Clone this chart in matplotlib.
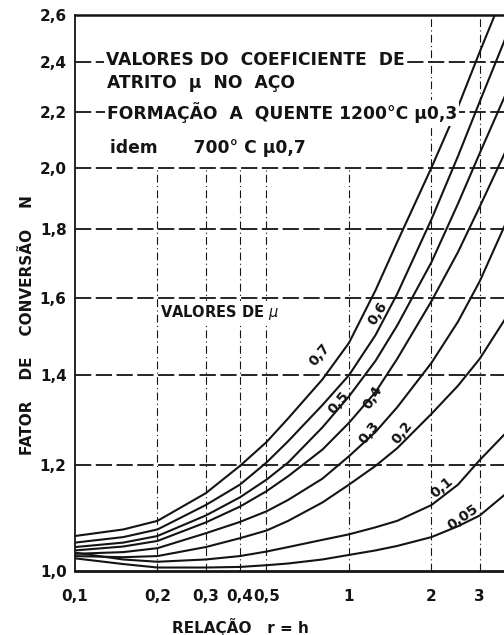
import numpy as np
import matplotlib.pyplot as plt
from matplotlib.ticker import NullLocator

# relacao r = h (log scale) and fator de conversao N
r = [0.1, 0.15, 0.2, 0.3, 0.4, 0.5, 0.6, 0.8, 1.0, 1.25, 1.5, 2.0, 2.5, 3.0, 3.7]

n_070 = [1.062, 1.074, 1.090, 1.143, 1.198, 1.248, 1.30, 1.39, 1.48, 1.62, 1.76, 2.00, 2.22, 2.44, 2.71]
n_060 = [1.050, 1.060, 1.074, 1.120, 1.160, 1.205, 1.25, 1.33, 1.40, 1.50, 1.61, 1.83, 2.04, 2.24, 2.49]
n_050 = [1.042, 1.050, 1.062, 1.100, 1.135, 1.170, 1.205, 1.28, 1.35, 1.435, 1.525, 1.70, 1.88, 2.05, 2.26]
n_040 = [1.036, 1.043, 1.053, 1.087, 1.117, 1.147, 1.177, 1.232, 1.29, 1.36, 1.44, 1.59, 1.73, 1.87, 2.05]
n_030 = [1.030, 1.033, 1.040, 1.067, 1.088, 1.108, 1.13, 1.172, 1.218, 1.27, 1.325, 1.43, 1.535, 1.645, 1.81]
n_020 = [1.026, 1.024, 1.026, 1.042, 1.058, 1.072, 1.09, 1.125, 1.16, 1.198, 1.235, 1.31, 1.375, 1.44, 1.54]
n_010 = [1.032, 1.020, 1.016, 1.020, 1.026, 1.034, 1.042, 1.055, 1.065, 1.078, 1.09, 1.12, 1.16, 1.21, 1.265]
n_005 = [1.022, 1.012, 1.006, 1.006, 1.007, 1.010, 1.013, 1.020, 1.028, 1.036, 1.044, 1.06, 1.08, 1.10, 1.14]

curves = [n_070, n_060, n_050, n_040, n_030, n_020, n_010, n_005]
mu_labels = ['0,7', '0,6', '0,5', '0,4', '0,3', '0,2', '0,1', '0,05']

y_ticks = [1.0, 1.2, 1.4, 1.6, 1.8, 2.0, 2.2, 2.4, 2.6]
y_ticklabels = ['1,0', '1,2', '1,4', '1,6', '1,8', '2,0', '2,2', '2,4', '2,6']
x_ticks = [0.1, 0.2, 0.3, 0.4, 0.5, 1, 2, 3]
x_ticklabels = ['0,1', '0,2', '0,3', '0,4', '0,5', '1', '2', '3']

ink = '#141414'
W, H = 504, 635

fig = plt.figure(figsize=(W / 100, H / 100), dpi=100)
ax = fig.add_axes([75 / W, 64 / H, (W - 75) / W, (571 - 15) / H])
ax.set_xscale('log')
ax.set_yscale('log')
ax.set_xlim(0.1, 3.68)
ax.set_ylim(1.0, 2.6)

# grid: dashed horizontals, vertical lines stop at 2,0 left of x=2
for yv in y_ticks[1:-1]:
    ax.axhline(yv, color=ink, lw=1.3, ls=(0, (9, 2.5)), zorder=1)
ax.vlines([v for v in x_ticks[1:] if v < 2], 1.0, 2.0, color=ink, lw=0.8,
          ls=(0, (7, 3, 1, 3)), zorder=1)
ax.vlines([v for v in x_ticks if v >= 2], 1.0, 2.6, color=ink, lw=0.8,
          ls=(0, (7, 3, 1, 3)), zorder=1)

for n in curves:
    ax.plot(r, n, color=ink, lw=1.5, zorder=3, solid_joinstyle='round')

ax.set_xticks(x_ticks)
ax.set_xticklabels(x_ticklabels)
ax.set_yticks(y_ticks)
ax.set_yticklabels(y_ticklabels)
ax.xaxis.set_minor_locator(NullLocator())
ax.yaxis.set_minor_locator(NullLocator())
ax.tick_params(axis='both', length=0, labelsize=11, colors=ink)
ax.tick_params(axis='x', pad=13)
ax.tick_params(axis='y', pad=6)
for lab in ax.get_xticklabels() + ax.get_yticklabels():
    lab.set_fontweight('bold')

ax.spines['right'].set_visible(False)
for s in ['left', 'top', 'bottom']:
    ax.spines[s].set_color(ink)
ax.spines['left'].set_linewidth(1.3)
ax.spines['top'].set_linewidth(1.8)
ax.spines['bottom'].set_linewidth(2.0)

# curve labels (rotated along the curves)
lab_r = [0.78, 1.27, 0.92, 1.22, 1.19, 1.57, 2.18, 2.6]
lab_n = [1.45, 1.557, 1.335, 1.348, 1.268, 1.268, 1.155, 1.097]
lab_rot = [50, 58, 50, 58, 52, 52, 40, 35]
for t, xr, yn, rot in zip(mu_labels, lab_r, lab_n, lab_rot):
    ax.text(xr, yn, t, rotation=rot, ha='center', va='center', fontsize=10,
            fontweight='bold', color=ink, zorder=4)

ax.text(0.205, 1.56, 'VALORES DE $\\mu$', ha='left', va='center', fontsize=10.5,
        fontweight='bold', color=ink, zorder=4,
        bbox=dict(facecolor='white', edgecolor='none', pad=1))

# header block
box = dict(facecolor='white', edgecolor='none', pad=1.5)
hdr = [('VALORES DO  COEFICIENTE  DE', 106, 60),
       ('ATRITO  \u03bc  NO  AÇO', 107, 83),
       ('FORMAÇÃO  A  QUENTE 1200°C \u03bc0,3', 107, 113),
       ('idem      700° C \u03bc0,7', 110, 148)]
for t, px, py in hdr:
    fig.text(px / W, 1 - py / H, t, ha='left', va='center', fontsize=12.3,
             fontweight='bold', color=ink, bbox=box, zorder=5)

fig.text(28 / W, 1 - 325 / H, 'FATOR    DE    CONVERSÃO    N', rotation=90,
         ha='center', va='center', fontsize=11, fontweight='bold', color=ink)
fig.text(240 / W, 1 - 627 / H, 'RELAÇÃO   r = h', ha='center', va='center',
         fontsize=11, fontweight='bold', color=ink)

fig.savefig('out.png', dpi=100)
